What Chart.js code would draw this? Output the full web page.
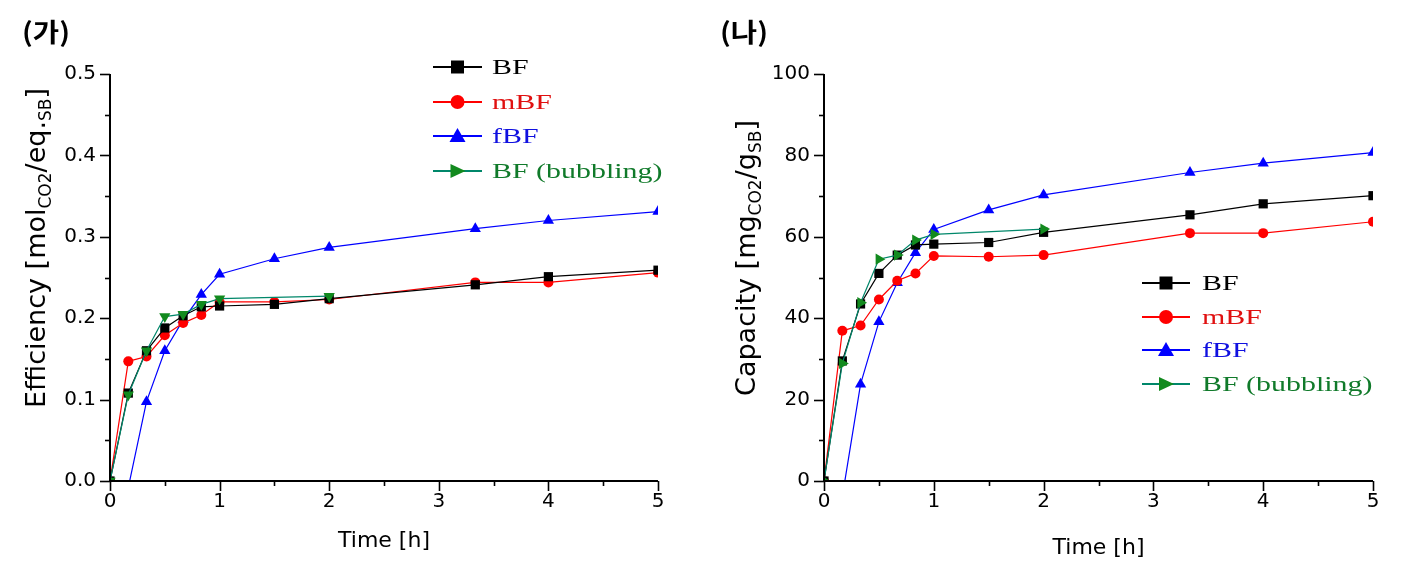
<!DOCTYPE html>
<html><head><meta charset="utf-8">
<script src="https://cdn.jsdelivr.net/npm/chart.js@4.4.1/dist/chart.umd.min.js"></script>
<style>
body{margin:0;background:#fff;width:1421px;height:568px;position:relative;overflow:hidden;font-family:"DejaVu Sans",sans-serif}
.box{position:absolute;top:0;height:568px}
.ytitle{position:absolute;white-space:nowrap;font-size:27px;color:#000;transform:translate(-50%,-50%) rotate(-90deg);line-height:1}
.ytitle sub{font-size:17px;vertical-align:-6px;line-height:0}
.panel{position:absolute;font-family:"Noto Sans CJK KR",sans-serif;font-weight:bold;font-size:26px;transform:translate(-50%,-50%) scaleX(1.1);line-height:1;white-space:nowrap}
</style></head>
<body>
<div class="box" style="left:0;width:710px"><canvas id="c1"></canvas></div>
<div class="box" style="left:710px;width:711px"><canvas id="c2"></canvas></div>
<div class="panel" style="left:46px;top:31px">(가)</div>
<div class="panel" style="left:744px;top:31px">(나)</div>
<div class="ytitle" style="left:35px;top:248px">Efficiency [mol<sub>CO2</sub>/eq.<sub>SB</sub>]</div>
<div class="ytitle" style="left:745px;top:258px">Capacity [mg<sub>CO2</sub>/g<sub>SB</sub>]</div>
<script>
// ---- data ----
const timeH = [0, 0.167, 0.333, 0.5, 0.667, 0.833, 1, 1.5, 2, 3.333, 4, 5];
const timeBubbling = [0, 0.167, 0.333, 0.5, 0.667, 0.833, 1, 2];
const seriesNames = ['BF', 'mBF', 'fBF', 'BF (bubbling)'];

const effBF  = [0, 0.108, 0.160, 0.188, 0.203, 0.214, 0.215, 0.217, 0.224, 0.241, 0.251, 0.259];
const effMBF = [0, 0.147, 0.153, 0.179, 0.194, 0.204, 0.220, 0.220, 0.223, 0.244, 0.244, 0.256];
const effFBF = [0, -0.008, 0.0975, 0.160, 0.198, 0.229, 0.254, 0.273, 0.287, 0.310, 0.320, 0.331];
const effBub = [0, 0.106, 0.160, 0.202, 0.205, 0.217, 0.224, 0.227];

const capBF  = [0, 29.5, 43.5, 51.0, 55.5, 58.0, 58.2, 58.6, 61.1, 65.4, 68.1, 70.1];
const capMBF = [0, 36.9, 38.2, 44.6, 49.2, 51.0, 55.3, 55.1, 55.5, 60.9, 60.9, 63.7];
const capFBF = [0, -3.8, 23.8, 39.1, 48.7, 56.1, 61.8, 66.6, 70.3, 75.8, 78.1, 80.7];
const capBub = [0, 28.9, 43.8, 54.5, 55.5, 59.2, 60.6, 61.9];

const timeTicks = [0, 1, 2, 3, 4, 5];
const effTicks = [0, 0.1, 0.2, 0.3, 0.4, 0.5];
const capTicks = [0, 20, 40, 60, 80, 100];

// ---- helpers ----
const pts = (xs, ys) => xs.map((t, i) => ({x: t, y: ys[i]}));
const lineColors = ['#000000', '#ff0000', '#0000ff', '#00876a'];
const markColors = ['#000000', '#ff0000', '#0000ff', '#128a1e'];
const textColors = ['#000000', '#e01010', '#1010e0', '#107a2a'];
const styles = ['rect', 'circle', 'triangle', 'triangle'];
const radii = [6.5, 5, 6.5, 6.5];

function makeDatasets(series, bubRot) {
  return series.map((s, i) => ({
    label: seriesNames[i],
    data: s,
    borderColor: lineColors[i],
    backgroundColor: markColors[i],
    pointBackgroundColor: markColors[i],
    pointBorderColor: markColors[i],
    pointBorderWidth: 0,
    borderWidth: 1.2,
    pointStyle: styles[i],
    pointRadius: radii[i],
    pointHoverRadius: radii[i],
    pointRotation: i === 3 ? bubRot : 0,
    tension: 0,
    clip: 0,
    order: [1, 2, 3, 0][i]
  }));
}

function drawMarker(ctx, kind, cx, cy, color) {
  ctx.fillStyle = color;
  ctx.beginPath();
  if (kind === 'rect') { ctx.rect(cx - 6.5, cy - 6.5, 13, 13); }
  else if (kind === 'circle') { ctx.arc(cx, cy, 7, 0, Math.PI * 2); }
  else if (kind === 'up') { ctx.moveTo(cx, cy - 8); ctx.lineTo(cx - 8, cy + 6); ctx.lineTo(cx + 8, cy + 6); ctx.closePath(); }
  else { ctx.moveTo(cx + 8, cy); ctx.lineTo(cx - 7, cy - 7); ctx.lineTo(cx - 7, cy + 7); ctx.closePath(); }
  ctx.fill();
}

const decor = {
  id: 'decor',
  afterDraw(chart, args, o) {
    const {ctx, chartArea: a, scales: {x, y}} = chart;
    ctx.save();
    ctx.strokeStyle = '#000';
    ctx.lineWidth = 2;
    ctx.beginPath();
    ctx.moveTo(a.left, a.top); ctx.lineTo(a.left, a.bottom); ctx.lineTo(a.right, a.bottom);
    ctx.stroke();
    ctx.lineWidth = 1.6;
    const isMajor = (v, m) => Math.abs(v / m - Math.round(v / m)) < 1e-3;
    for (let i = 0; ; i++) {
      const v = y.min + i * o.minorY;
      if (v > y.max + 1e-9) break;
      const p = Math.round(y.getPixelForValue(v)) + 0.5;
      const L = isMajor(v, o.majorY) ? 10 : 5;
      ctx.beginPath(); ctx.moveTo(a.left - L, p); ctx.lineTo(a.left, p); ctx.stroke();
    }
    for (let i = 0; ; i++) {
      const v = x.min + i * o.minorX;
      if (v > x.max + 1e-9) break;
      const p = Math.round(x.getPixelForValue(v)) + 0.5;
      const L = isMajor(v, o.majorX) ? 10 : 5;
      ctx.beginPath(); ctx.moveTo(p, a.bottom); ctx.lineTo(p, a.bottom + L); ctx.stroke();
    }
    // legend
    const lg = o.legend;
    const kinds = ['rect', 'circle', 'up', 'right'];
    seriesNames.forEach((name, i) => {
      const ry = lg.rows[i];
      ctx.strokeStyle = lineColors[i];
      ctx.lineWidth = 2;
      ctx.beginPath(); ctx.moveTo(lg.x1, ry); ctx.lineTo(lg.x2, ry); ctx.stroke();
      drawMarker(ctx, kinds[i], (lg.x1 + lg.x2) / 2, ry, markColors[i]);
      ctx.save();
      ctx.translate(lg.tx, ry);
      ctx.scale(1.36, 1);
      ctx.font = '22px "Liberation Serif", serif';
      ctx.textBaseline = 'middle';
      ctx.fillStyle = textColors[i];
      ctx.fillText(name, 0, 1);
      ctx.restore();
    });
    ctx.restore();
  }
};

// clip data drawing to the plot area (markers below the axis are hidden)
const clipper = {
  id: 'clipper',
  beforeDatasetsDraw(chart) {
    const a = chart.chartArea, ctx = chart.ctx;
    ctx.save();
    ctx.beginPath();
    ctx.rect(a.left - 8, a.top - 8, a.right - a.left + 16, a.bottom - a.top + 8);
    ctx.clip();
  },
  afterDatasetsDraw(chart) { chart.ctx.restore(); }
};

Chart.defaults.color = '#000';
Chart.defaults.font.family = '"DejaVu Sans", sans-serif';

function makeChart(id, series, bubRot, yTicks, yFmt, yW, padRight, titlePad, minorY, majorY, legend) {
  return new Chart(document.getElementById(id), {
    type: 'line',
    data: { datasets: makeDatasets(series, bubRot) },
    options: {
      responsive: true, maintainAspectRatio: false, animation: false,
      devicePixelRatio: 1,
      layout: { padding: { left: 0, top: 74, right: padRight, bottom: 0 } },
      plugins: { legend: { display: false }, tooltip: { enabled: false }, decor: { minorY, majorY, minorX: 0.5, majorX: 1, legend } },
      scales: {
        x: {
          type: 'linear', min: 0, max: 5,
          afterBuildTicks: s => { s.ticks = timeTicks.map(v => ({value: v})); },
          afterFit: s => { s.height = 87; },
          grid: { display: false, drawTicks: false, tickLength: 0 },
          border: { display: false },
          ticks: { font: { size: 20 }, padding: 9, maxRotation: 0, callback: v => String(v) },
          title: { display: true, text: 'Time [h]', font: { size: 22 }, padding: { top: 0, bottom: titlePad } }
        },
        y: {
          type: 'linear', min: yTicks[0], max: yTicks[yTicks.length - 1],
          afterBuildTicks: s => { s.ticks = yTicks.map(v => ({value: v})); },
          afterFit: s => { s.width = yW; },
          grid: { display: false, drawTicks: false, tickLength: 0 },
          border: { display: false },
          ticks: { font: { size: 20 }, padding: 14, callback: yFmt }
        }
      }
    },
    plugins: [clipper, decor]
  });
}

makeChart('c1',
  [pts(timeH, effBF), pts(timeH, effMBF), pts(timeH, effFBF), pts(timeBubbling, effBub)],
  180, effTicks, v => Number(v).toFixed(1), 110, 52, 14, 0.05, 0.1,
  { x1: 433, x2: 482, tx: 492, rows: [67, 102, 136, 171] });

makeChart('c2',
  [pts(timeH, capBF), pts(timeH, capMBF), pts(timeH, capFBF), pts(timeBubbling, capBub)],
  90, capTicks, v => String(v), 114, 48, 7, 10, 20,
  { x1: 432, x2: 480, tx: 492, rows: [283, 317, 350, 384] });
</script>
</body></html>
